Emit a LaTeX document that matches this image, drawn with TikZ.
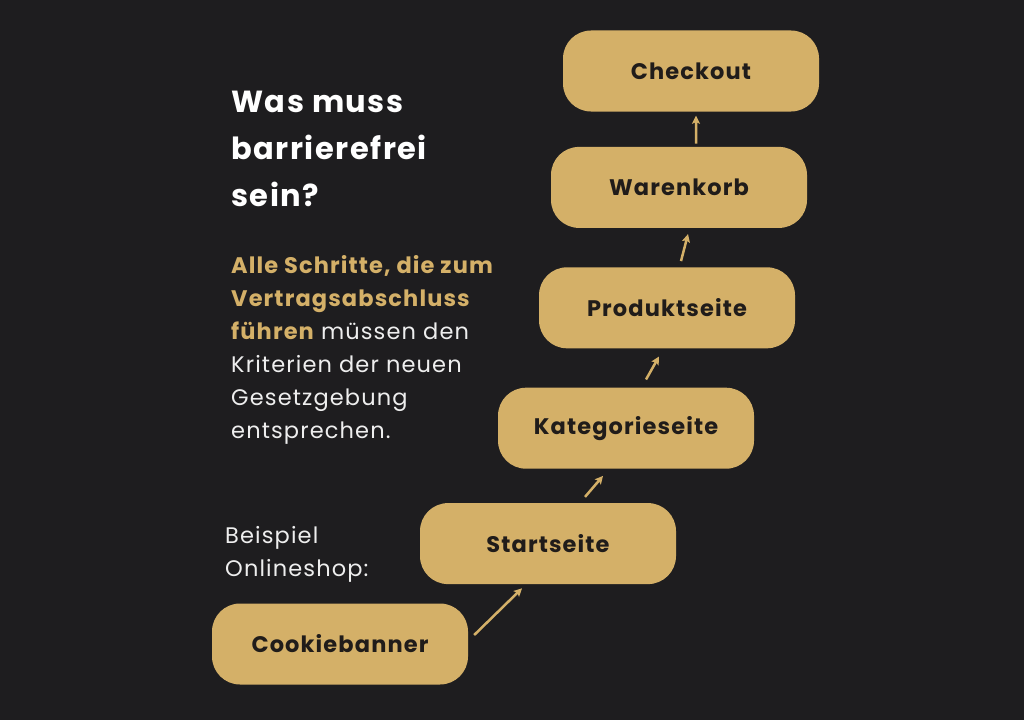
\documentclass[tikz,border=0pt]{standalone}
\usepackage{fontspec}
\setmainfont{Poppins}[LetterSpace=5]
\usetikzlibrary{arrows.meta,positioning}
\definecolor{bg}{RGB}{30,29,31}
\definecolor{gold}{RGB}{212,176,104}
\definecolor{ink}{RGB}{32,28,26}
\definecolor{paper}{RGB}{238,238,238}

\begin{document}
\begin{tikzpicture}[x=1bp,y=-1bp,node distance=37bp,
  stepbox/.style={fill=gold,rounded corners=28bp,minimum width=256bp,minimum height=81bp,
    text=ink,font=\fontsize{22.5bp}{26bp}\selectfont\bfseries},
  arr/.style={draw=gold,line width=2.5bp,-{Stealth[length=8bp,width=8bp,inset=1.5bp]}},
  lefttext/.style={anchor=north west,inner sep=0pt,align=left}]
  \fill[bg] (0,0) rectangle (1024,720);

  % the steps of the shop
  \node[stepbox] (cookie) at (340,644) {Cookiebanner};
  \node[stepbox] (start) [above=19bp of cookie,xshift=208bp] {Startseite};
  \node[stepbox] (kat) [above=34bp of start,xshift=78bp] {Kategorieseite};
  \node[stepbox] (prod) [above=39bp of kat,xshift=41bp] {Produktseite};
  \node[stepbox] (waren) [above=39bp of prod,xshift=12bp] {Warenkorb};
  \node[stepbox] (check) [above=35bp of waren,xshift=12bp] {Checkout};

  \draw[arr] ([shift={(6,-9)}]cookie.east) -- ([shift={(-26,4)}]start.south);
  \draw[arr] ([shift={(37,-6)}]start.north) -- ([shift={(-23,7)}]kat.south);
  \draw[arr] ([shift={(20,-8)}]kat.north) -- ([shift={(-8,8)}]prod.south);
  \draw[arr] ([shift={(14,-6)}]prod.north) -- ([shift={(9,6)}]waren.south);
  \draw[arr] ([shift={(17,-3)}]waren.north) -- ([shift={(5,4)}]check.south);

  % texts on the left
  \node[lefttext,text=white,font=\fontsize{30.5bp}{47bp}\selectfont\bfseries] (title) at (231,91)
    {Was muss\\barrierefrei\\sein?};
  \node[lefttext,text=paper,font=\fontsize{22.5bp}{33bp}\selectfont] (body) at (231,255)
    {\textcolor{gold}{\bfseries Alle Schritte, die zum}\\
     \textcolor{gold}{\bfseries Vertragsabschluss}\\
     \textcolor{gold}{\bfseries führen} müssen den\\
     Kriterien der neuen\\Gesetzgebung\\entsprechen.};
  \node[lefttext,text=paper,font=\fontsize{22.5bp}{33bp}\selectfont] (example) at (225,526)
    {Beispiel\\Onlineshop:};
\end{tikzpicture}
\end{document}
